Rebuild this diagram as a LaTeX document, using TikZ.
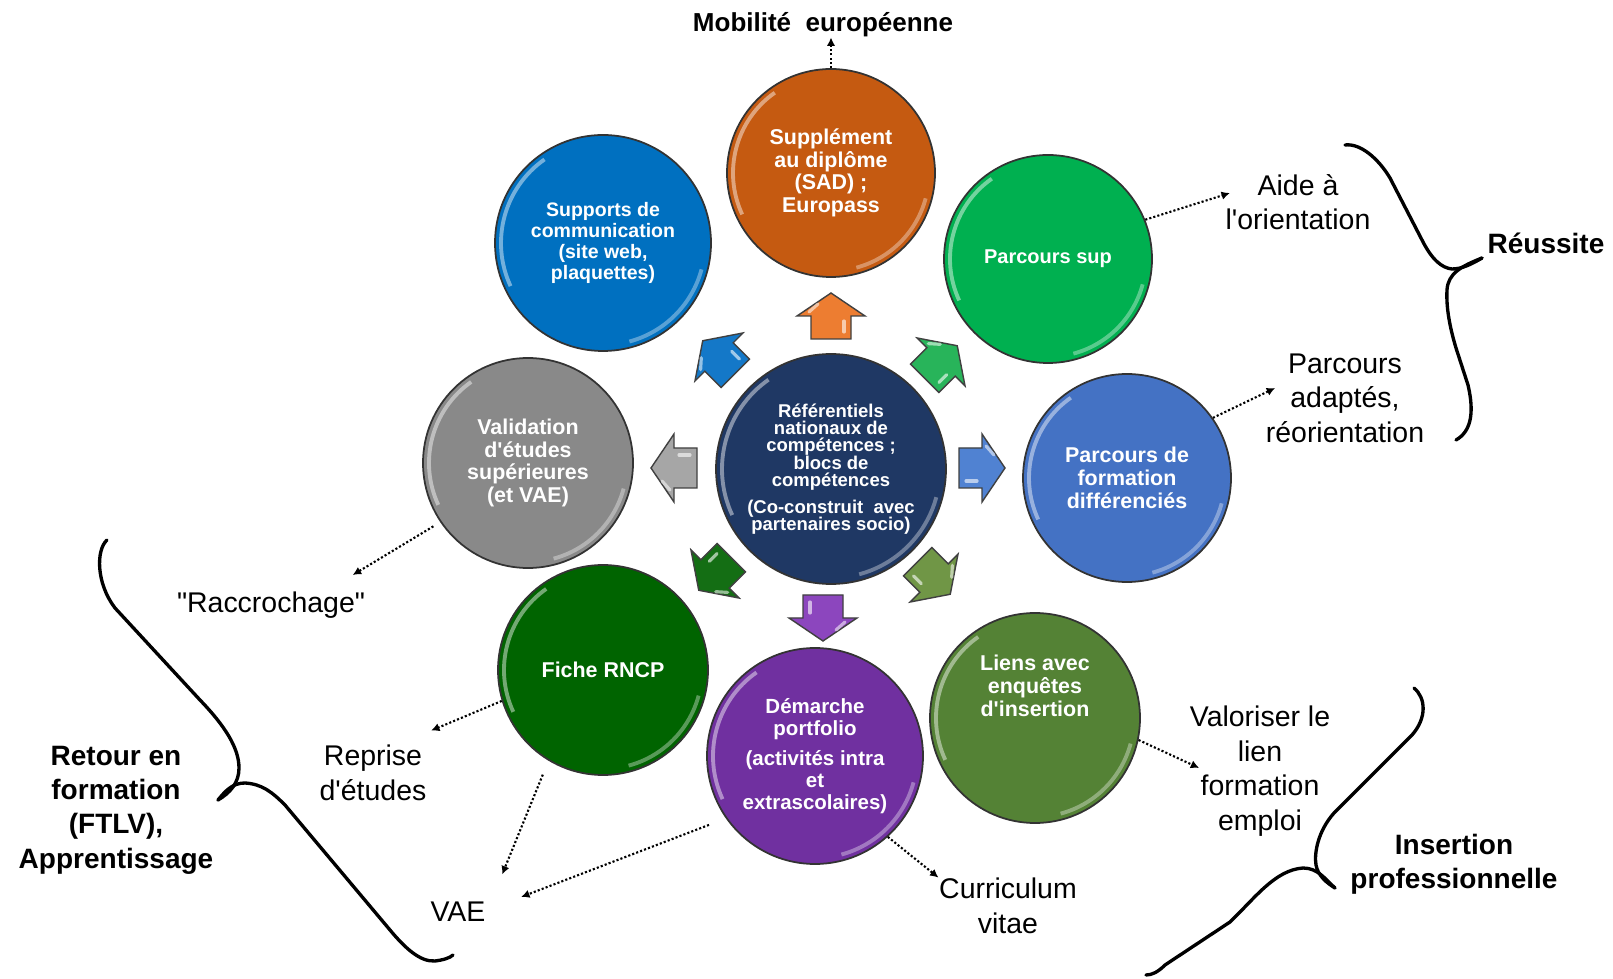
\documentclass[tikz,border=0pt]{standalone}
\usepackage{fontspec}
\setmainfont{Liberation Sans}[Ligatures=TeXOff]
\usetikzlibrary{arrows.meta}

\definecolor{refnavy}{RGB}{31,56,100}
\definecolor{sadorange}{RGB}{197,90,17}
\definecolor{commblue}{RGB}{0,112,192}
\definecolor{psupgreen}{RGB}{0,176,80}
\definecolor{pfdblue}{RGB}{68,114,196}
\definecolor{vesgray}{RGB}{137,137,137}
\definecolor{rncpgreen}{RGB}{0,100,0}
\definecolor{portpurple}{RGB}{112,48,160}
\definecolor{liensolive}{RGB}{84,130,53}
\definecolor{sadarr}{RGB}{237,125,49}
\definecolor{commarr}{RGB}{20,120,200}
\definecolor{psuparr}{RGB}{40,180,90}
\definecolor{pfdarr}{RGB}{80,130,210}
\definecolor{vesarr}{RGB}{166,166,166}
\definecolor{rncparr}{RGB}{20,110,20}
\definecolor{portarr}{RGB}{140,70,190}
\definecolor{liensarr}{RGB}{112,150,70}

\newcommand{\bubblefont}{\fontsize{6.1}{6.45}\selectfont\bfseries}
\newcommand{\lblfont}{\fontsize{8.1}{9.8}\selectfont}
\newcommand{\blblfont}{\fontsize{7.97}{9.8}\selectfont\bfseries}

\tikzset{
  bubble/.style={circle, draw=black!80, line width=0.5pt, inner sep=0pt,
    minimum size=#1*2cm, text=white, align=center, font=\bubblefont,
    path picture={
      \draw[white, opacity=0.45, line width=1.1pt]
        (path picture bounding box.center) ++(205:{#1-0.06})
        arc[start angle=205, end angle=125, radius={#1-0.06}];
      \draw[white, opacity=0.35, line width=1.1pt]
        (path picture bounding box.center) ++(-15:{#1-0.06})
        arc[start angle=-15, end angle=-75, radius={#1-0.06}];
    }},
  lbl/.style={align=center, font=\lblfont, inner sep=0pt},
  blbl/.style={align=center, font=\blblfont, inner sep=0pt},
  dotarr/.style={line width=0.6pt, dash pattern=on 0.6pt off 0.6pt,
    -{Latex[length=2.4pt,width=2.4pt]}},
  brace/.style={line width=0.95pt, line cap=round},
  pics/blockarr/.style={code={
    \filldraw[fill=#1, draw=black!75, line width=0.4pt]
      (-0.23,-0.20) -- (0,-0.20) -- (0,-0.34) -- (0.23,0)
      -- (0,0.34) -- (0,0.20) -- (-0.23,0.20) -- cycle;
    \draw[white, opacity=0.6, line width=0.9pt, line cap=round]
      (-0.16,-0.13) -- (-0.05,-0.13);
    \draw[white, opacity=0.55, line width=0.9pt, line cap=round]
      (0.04,0.22) -- (0.12,0.13);
  }}
}

\begin{document}
\begin{tikzpicture}
\useasboundingbox (0,0) rectangle (16.13,9.78);

  % centre
  \node[bubble=1.15, fill=refnavy, font=\fontsize{5.26}{4.95}\selectfont\bfseries] (ref) at (8.31,5.09)
    {Référentiels\\nationaux de\\compétences ;\\blocs de\\compétences\\[0.09cm](Co-construit~ avec\\partenaires socio)};

  % ring of circles
  \node[bubble=1.04, fill=sadorange] (sad) at (8.31,8.05)
    {Supplément\\au diplôme\\(SAD) ;\\Europass};
  \node[bubble=1.08, fill=commblue, font=\fontsize{5.55}{5.98}\selectfont\bfseries] (comm) at (6.03,7.35)
    {Supports de\\communication\\(site web,\\plaquettes)};
  \node[bubble=1.04, fill=psupgreen, font=\fontsize{5.69}{6.4}\selectfont\bfseries] (psup) at (10.48,7.19)
    {Parcours sup};
  \node[bubble=1.04, fill=pfdblue] (pfd) at (11.27,5.00)
    {Parcours de\\formation\\différenciés};
  \node[bubble=1.05, fill=vesgray] (ves) at (5.28,5.15)
    {Validation\\d'études\\supérieures\\(et VAE)};
  \node[bubble=1.05, fill=rncpgreen] (rncp) at (6.03,3.08)
    {Fiche RNCP};
  \node[bubble=1.08, fill=portpurple, font=\fontsize{5.83}{6.3}\selectfont\bfseries] (port) at (8.15,2.22)
    {Démarche\\portfolio\\[0.08cm](activités intra\\et\\extrascolaires)};
  \node[bubble=1.05, fill=liensolive] (liens) at (10.35,2.60) {};
  \node[align=center, text=white, font=\bubblefont, inner sep=0pt] (liensTxt) at (10.35,2.92)
    {Liens avec\\enquêtes\\d'insertion};

  % block arrows out of the centre
  \pic[rotate=90] at (8.31,6.62) {blockarr=sadarr};
  \pic[rotate=135] at (7.19,6.21) {blockarr=commarr};
  \pic[rotate=45] at (9.41,6.16) {blockarr=psuparr};
  \pic[rotate=180] at (6.74,5.10) {blockarr=vesarr};
  \pic[rotate=0] at (9.82,5.10) {blockarr=pfdarr};
  \pic[rotate=225] at (7.15,4.04) {blockarr=rncparr};
  \pic[rotate=270] at (8.23,3.60) {blockarr=portarr};
  \pic[rotate=315] at (9.34,4.00) {blockarr=liensarr};

  % outer labels
  \node[blbl, font=\fontsize{7.4}{8}\selectfont\bfseries] (mob) at (8.23,9.535) {Mobilité~~européenne};
  \node[lbl] (aide) at (12.98,7.76) {Aide à\\l'orientation};
  \node[lbl] (padapt) at (13.45,5.80) {Parcours\\adaptés,\\réorientation};
  \node[lbl] (valor) at (12.60,2.07) {Valoriser le\\lien\\formation\\emploi};
  \node[lbl] (cv) at (10.08,0.72) {Curriculum\\vitae};
  \node[lbl] (vae) at (4.58,0.66) {VAE};
  \node[lbl] (reprise) at (3.73,2.05) {Reprise\\d'études};
  \node[lbl] (raccro) at (2.71,3.73) {"Raccrochage"};
  \node[blbl] (reussite) at (15.46,7.35) {Réussite};
  \node[blbl] (insert) at (14.54,1.14) {Insertion\\professionnelle};
  \node[blbl] (retour) at (1.16,1.68) {Retour en\\formation\\(FTLV),\\Apprentissage};

  % dotted links
  \draw[dotarr] (sad.north) -- (sad.north |- mob.south);
  \draw[dotarr] (psup.22) -- ([shift={(0.05,0.09)}]aide.west);
  \draw[dotarr] (pfd.35) -- ([shift={(0.1,0.1)}]padapt.west);
  \draw[dotarr] (liens.-12) -- ([shift={(0.1,0.03)}]valor.west);
  \draw[dotarr] (port.-48) -- (cv.north west);
  \draw[dotarr, shorten <=0.18cm] (port.215) -- ([shift={(0.35,0.15)}]vae.east);
  \draw[dotarr, shorten <=0.15cm] (rncp.239) -- ([shift={(0.16,0.27)}]vae.north east);
  \draw[dotarr] (rncp.197) -- ([shift={(0.04,0.14)}]reprise.north east);
  \draw[dotarr, shorten <=0.08cm] (ves.214) -- ([shift={(-0.13,0.16)}]raccro.north east);

  % braces
  \draw[brace] (13.45,8.33) .. controls (13.60,8.35) and (13.78,8.20) .. (13.90,8.00)
    -- (14.22,7.38) .. controls (14.32,7.18) and (14.42,7.10) .. (14.52,7.09)
    .. controls (14.62,7.09) and (14.72,7.14) .. (14.82,7.20);
  \draw[brace] (14.82,7.20) .. controls (14.62,7.12) and (14.48,7.05) .. (14.47,6.88)
    .. controls (14.46,6.70) and (14.50,6.50) .. (14.56,6.30)
    -- (14.68,5.93) .. controls (14.75,5.63) and (14.70,5.46) .. (14.56,5.38);

  \draw[brace] (1.07,4.38) .. controls (0.96,4.28) and (0.96,3.95) .. (1.15,3.70)
    -- (2.00,2.78) .. controls (2.25,2.52) and (2.39,2.30) .. (2.39,2.10)
    .. controls (2.39,1.95) and (2.30,1.85) .. (2.18,1.78);
  \draw[brace] (2.18,1.78) .. controls (2.26,1.88) and (2.33,1.95) .. (2.45,1.95)
    .. controls (2.62,1.94) and (2.72,1.86) .. (2.85,1.73)
    -- (3.90,0.48) .. controls (4.05,0.30) and (4.20,0.16) .. (4.35,0.17)
    .. controls (4.43,0.18) and (4.50,0.20) .. (4.53,0.23);

  \draw[brace] (14.14,2.90) .. controls (14.26,2.80) and (14.27,2.60) .. (14.12,2.43)
    -- (13.34,1.65) .. controls (13.18,1.47) and (13.14,1.25) .. (13.16,1.13)
    .. controls (13.18,1.02) and (13.27,0.95) .. (13.35,0.90);
  \draw[brace] (13.35,0.90) .. controls (13.25,0.99) and (13.18,1.10) .. (13.03,1.10)
    .. controls (12.75,1.08) and (12.55,0.80) .. (12.30,0.56)
    -- (11.65,0.13) .. controls (11.58,0.06) and (11.52,0.03) .. (11.46,0.03);

\end{tikzpicture}
\end{document}
